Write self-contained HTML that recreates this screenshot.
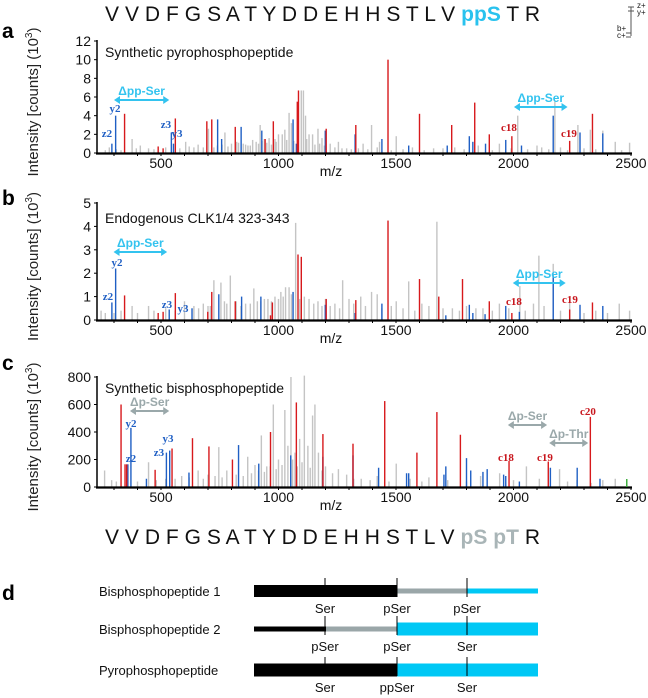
<!DOCTYPE html>
<html><head><meta charset="utf-8">
<style>
html,body{margin:0;padding:0;background:#fff;}
svg{display:block;font-family:"Liberation Sans",Arial,sans-serif;}
</style></head>
<body>
<svg id="fig" width="648" height="698" viewBox="0 0 648 698" xmlns="http://www.w3.org/2000/svg">
  <text x="105" y="21" font-size="21" fill="#111" textLength="435" lengthAdjust="spacing">V V D F G S A T Y D D E H H S T L V <tspan fill="#29c2ee" font-weight="bold">ppS</tspan> T R</text>
  <g font-size="8" fill="#222">
    <text x="637" y="8">z+</text><text x="637" y="15">y+</text>
    <text x="617" y="31">b+</text><text x="617" y="38">c+</text>
    <path d="M628 7 H634 M628 11 H634 M631 7 V36 M626 33 H631 M626 37 H631" stroke="#555" stroke-width="1" fill="none"/>
  </g>
  <text x="105" y="544" font-size="21" fill="#111" textLength="435" lengthAdjust="spacing">V V D F G S A T Y D D E H H S T L V <tspan fill="#a9b5b7" font-weight="bold">pS pT</tspan> R</text>
  <g id="panels"></g>
  <g id="paneld"></g>
</svg>
<script>
// ---------- data ----------
const xTickLabels=[500,1000,1500,2000,2500];
const aTicks=[0,2,4,6,8,10,12];
const bTicks=[0,1,2,3,4,5];
const cTicks=[0,200,400,600,800];

const aRedMz=[345,488,509,561,695,716,816,943,978,1080,1085,1203,1329,1466,1600,1737,1835,1897,1993,2239,2336];
const aRedVal=[4.2,0.7,0.5,3.7,3.4,3.6,2.8,1.5,3.4,5.5,6.7,2.6,3.0,10,4.2,3.0,5.4,2.0,1.8,1.3,4.2];
const aBlueMz=[291,307,544,553,741,758,841,929,1062,1076,1199,1326,1440,1554,1718,1812,1827,1881,1967,2034,2169,2283,2380];
const aBlueVal=[1.0,4.0,2.2,1.0,3.6,1.5,2.8,2.4,3.6,1.0,2.4,2.0,1.5,0.8,0.8,1.8,1.2,1.0,1.4,0.8,4.0,2.2,2.1];
const aGrayMz=[263,280,377,412,447,605,640,658,702,725,772,800,822,850,870,890,905,922,940,960,985,1000,1016,1027,1045,1055,1097,1106,1115,1130,1145,1168,1185,1220,1255,1290,1360,1396,1430,1501,1570,1660,1750,1850,1940,2018,2100,2120,2176,2200,2274,2327,2380,2433,2494,310,330,395,470,520,580,620,680,740,760,785,830,860,880,915,930,950,970,990,1035,1065,1120,1155,1175,1195,1240,1270,1310,1340,1380,1420,1480,1530,1620,1700,1790,1910,1990,2060,2150,2230,2300,2350,2460];
const aGrayVal=[0.3,0.6,1.5,0.8,0.5,1.2,0.6,0.9,2.6,0.6,2.2,1.0,1.2,1.0,0.8,1.4,1.2,3.0,1.5,1.6,1.5,2.0,2.0,2.5,4.3,3.2,6.7,6.7,4.0,2.0,2.0,2.6,1.6,1.0,1.2,0.5,1.0,3.0,1.2,1.8,0.6,0.5,0.6,0.8,1.0,4.0,0.8,0.6,5.5,0.6,3.0,2.5,2.4,1.2,1.1,0.4,0.3,0.5,0.4,0.6,0.5,0.7,0.6,0.8,0.9,0.7,1.1,0.9,0.8,1.0,1.3,1.1,0.9,1.2,1.4,1.3,1.5,0.9,1.0,0.8,0.6,0.5,0.4,0.5,0.4,0.6,0.3,0.4,0.3,0.5,0.4,0.3,0.5,0.4,0.4,0.3,0.5,0.4,0.3];

const bRedMz=[345,488,509,561,699,716,816,966,974,1083,1097,1203,1329,1466,1600,1682,1783,1897,1993,2239,2336];
const bRedVal=[1.05,0.3,0.35,1.15,0.35,1.2,0.8,0.2,0.75,2.8,2.7,0.9,0.85,4.25,1.75,1.0,1.75,0.8,0.3,0.45,0.75];
const bBlueMz=[291,307,535,632,746,843,925,1062,1199,1326,1440,1712,1812,1827,1879,1967,2025,2169,2283,2380];
const bBlueVal=[0.75,2.2,0.45,0.5,1.1,1.0,1.0,1.2,0.65,0.3,0.7,0.2,0.65,0.3,0.25,0.6,0.35,1.9,0.65,0.6];
const bGrayMz=[245,263,377,447,600,660,700,725,755,795,820,860,895,925,955,985,1010,1030,1045,1073,1110,1130,1168,1200,1240,1273,1300,1350,1396,1420,1501,1554,1610,1674,1740,1800,1870,1940,2027,2085,2108,2169,2239,2450,2494,300,330,400,470,520,560,640,680,710,770,780,840,880,910,940,970,1000,1020,1055,1090,1150,1185,1220,1260,1320,1370,1440,1480,1530,1580,1640,1700,1770,1840,1910,1980,2050,2130,2200,2300,2350,2400];
const bGrayVal=[0.4,0.3,0.6,0.6,0.8,0.5,0.6,1.7,1.6,1.9,0.8,0.7,1.35,0.8,0.9,1.0,1.2,1.4,1.4,4.15,1.0,0.9,0.8,0.9,0.7,1.7,0.9,1.0,1.2,1.1,0.8,1.65,0.7,4.2,0.5,0.6,0.5,0.7,1.45,0.7,2.75,2.4,1.0,0.7,0.4,0.3,0.4,0.3,0.4,0.5,0.4,0.6,0.7,0.6,0.8,0.7,0.6,0.7,0.8,0.9,0.8,0.9,1.0,1.1,0.9,0.7,0.6,0.6,0.5,0.7,0.6,0.5,0.6,0.5,0.4,0.6,0.5,0.4,0.5,0.4,0.5,0.4,0.6,0.4,0.3,0.4,0.3];

const cRedMz=[330,347,354,475,547,634,704,804,966,1076,1189,1317,1452,1589,1674,1774,1981,2148,2327];
const cRedVal=[600,165,165,125,280,355,295,200,400,615,385,315,625,250,545,380,190,185,510];
const cBlueMz=[359,372,438,523,537,619,830,916,1052,1189,1317,1426,1545,1554,1704,1712,1800,1818,1870,1888,1958,1967,2025,2157,2271,2368];
const cBlueVal=[165,430,60,250,265,105,305,170,230,220,230,140,100,100,90,150,210,120,110,130,90,80,40,140,140,60];
const cGrayMz=[260,290,447,520,588,658,700,746,780,869,900,927,950,978,1000,1027,1040,1053,1070,1090,1110,1125,1145,1155,1170,1200,1255,1290,1352,1420,1501,1560,1640,1720,1860,1941,2055,2110,2196,2270,2380,2433,310,400,480,560,620,680,730,760,820,850,885,915,940,965,990,1015,1060,1080,1100,1135,1185,1230,1320,1390,1470,1610,1800,2000,2230,2330];
const cGrayVal=[120,50,180,60,80,120,90,290,120,220,160,375,150,600,200,560,300,800,250,350,810,300,520,600,250,150,130,90,60,80,170,60,70,50,80,100,150,60,130,50,50,60,40,40,50,60,70,60,80,70,90,80,100,120,110,150,130,160,200,150,180,140,120,100,60,50,40,40,40,50,40,30];

// ---------- helpers ----------
const NS="http://www.w3.org/2000/svg";
function X(mz){return 161+(mz-500)*0.235;}
function mk(tag,attrs,parent,text){const e=document.createElementNS(NS,tag);for(const k in attrs)e.setAttribute(k,attrs[k]);if(text!==undefined)e.textContent=text;parent.appendChild(e);return e;}

const root=document.getElementById('panels');
const PANELS=[
 {id:'a',base:153,top:41,max:12,ticks:aTicks,title:'Synthetic pyrophosphopeptide',titleY:57,letterY:38,
  red:[aRedMz,aRedVal],blue:[aBlueMz,aBlueVal],gray:[aGrayMz,aGrayVal]},
 {id:'b',base:320,top:203,max:5,ticks:bTicks,title:'Endogenous CLK1/4 323-343',titleY:223,letterY:205,
  red:[bRedMz,bRedVal],blue:[bBlueMz,bBlueVal],gray:[bGrayMz,bGrayVal]},
 {id:'c',base:487,top:377,max:800,ticks:cTicks,title:'Synthetic bisphosphopeptide',titleY:393,letterY:370,
  red:[cRedMz,cRedVal],blue:[cBlueMz,cBlueVal],gray:[cGrayMz,cGrayVal]}
];

PANELS.forEach(p=>{
  const g=mk('g',{},root);
  
  
  const Y=v=>p.base-(v/p.max)*(p.base-p.top);
  const lt=mk('text',{x:2,y:p.letterY,'font-size':21,'font-weight':'bold',fill:'#000'},g,p.id);
  
  
  const yt=mk('text',{x:0,y:0,'font-size':15,fill:'#222','text-anchor':'middle',transform:'translate(38,'+((p.base+p.top)/2+5)+') rotate(-90)'},g,'Intensity [counts] (10');
  mk('tspan',{'font-size':10,dy:-6},yt,'3');
  mk('tspan',{dy:6},yt,')');
  
  
  const tt=mk('text',{x:105,y:p.titleY,'font-size':14,fill:'#111'},g,p.title);
  
  
  [['gray','#c4c4c4'],['blue','#1f5fc4'],['red','#d7191c']].forEach(([k,col])=>{
    const [ms,vs]=p[k];
    const n=Math.min(ms.length,vs.length);
    for(let i=0;i<n;i++){
      const l=mk('line',{x1:X(ms[i]),x2:X(ms[i]),y1:p.base,y2:Y(vs[i]),stroke:col,'stroke-width':1.4},g);
      
      
    }
  });
  const ya=mk('line',{x1:97,x2:97,y1:p.base+1,y2:p.top-1,stroke:'#000','stroke-width':1.5},g);
  
  
  const xa=mk('line',{x1:96,x2:632,y1:p.base+0.5,y2:p.base+0.5,stroke:'#000','stroke-width':2.2},g);
  
  
  for(let m=300;m<=2500;m+=100){mk('line',{x1:X(m),x2:X(m),y1:p.base,y2:p.base+3,stroke:'#000','stroke-width':1},g);}
  p.ticks.forEach(v=>{
    mk('line',{x1:94,x2:97,y1:Y(v),y2:Y(v),stroke:'#000','stroke-width':1},g);
    const t=mk('text',{x:91,y:Y(v)+5,'font-size':14,'text-anchor':'end',fill:'#111'},g,String(v));
    
    
  });
  xTickLabels.forEach(v=>{
    const t=mk('text',{x:X(v),y:p.base+15,'font-size':14,'text-anchor':'middle',fill:'#111'},g,String(v));
    
    
  });
  const xl=mk('text',{x:331,y:p.base+23,'font-size':14,'text-anchor':'middle',fill:'#111'},g,'m/z');
  
  
  p.g=g;
});

// ---------- annotations ----------
function label(g,x,y,txt,col,nm,size){
  const t=mk('text',{x:x,y:y,'font-size':size||11,'font-weight':'bold','font-family':'"Liberation Serif",serif',fill:col,'text-anchor':'middle'},g,txt);
  
  
}
function arrow(g,m1,m2,y,col,txt,nm){
  const x1=X(m1),x2=X(m2);
  const a=mk('g',{},g);
  
  
  mk('line',{x1:x1+4,x2:x2-4,y1:y,y2:y,stroke:col,'stroke-width':2},a);
  mk('path',{d:`M${x1} ${y} l6 -4 v8 z M${x2} ${y} l-6 -4 v8 z`,fill:col},a);
  mk('text',{x:(x1+x2)/2,y:y-5,'font-size':12,'font-weight':'bold','text-anchor':'middle',fill:col},a,txt);
}
const cyan='#33c3ef',grayA='#9aa8aa',blu='#1f5fc4',rd='#c8161d';
const ga=PANELS[0].g,gb=PANELS[1].g,gc=PANELS[2].g;
arrow(ga,300,535,100,cyan,'Δpp-Ser','arrow-pp-ser-left');
arrow(ga,2002,2230,107,cyan,'Δpp-Ser','arrow-pp-ser-right');
label(ga,115,112,'y2',blu,'label-y2');label(ga,107,137,'z2',blu,'label-z2');
label(ga,166,128,'z3',blu,'label-z3');label(ga,177,137,'y3',blu,'label-y3');
label(ga,509,131,'c18',rd,'label-c18');label(ga,569,137,'c19',rd,'label-c19');

arrow(gb,298,526,252,cyan,'Δpp-Ser','arrow-pp-ser-left');
arrow(gb,1997,2222,283,cyan,'Δpp-Ser','arrow-pp-ser-right');
label(gb,117,266,'y2',blu,'label-y2');label(gb,108,300,'z2',blu,'label-z2');
label(gb,167,308,'z3',blu,'label-z3');label(gb,183,312,'y3',blu,'label-y3');
label(gb,514,305,'c18',rd,'label-c18');label(gb,570,303,'c19',rd,'label-c19');

arrow(gc,368,535,411,grayA,'Δp-Ser','arrow-p-ser-left');
arrow(gc,1976,2143,425,grayA,'Δp-Ser','arrow-p-ser-right');
arrow(gc,2152,2318,443,grayA,'Δp-Thr','arrow-p-thr');
label(gc,131,427,'y2',blu,'label-y2');label(gc,131,462,'z2',blu,'label-z2');
label(gc,168,442,'y3',blu,'label-y3');label(gc,159,456,'z3',blu,'label-z3');
label(gc,506,461,'c18',rd,'label-c18');label(gc,545,461,'c19',rd,'label-c19');label(gc,588,415,'c20',rd,'label-c20');
mk('line',{x1:X(2482),x2:X(2482),y1:487,y2:479,stroke:'#3a3','stroke-width':1.4},gc);

// ---------- panel d ----------
const gd=document.getElementById('paneld');
mk('text',{x:2,y:600,'font-size':21,'font-weight':'bold'},gd,'d');
const rows=[
 {name:'Bisphosphopeptide 1',y:591,segs:[[254,397,'#000',12],[397,467,'#9aa6a8',5],[467,538,'#00c8f5',5]],labs:['Ser','pSer','pSer']},
 {name:'Bisphosphopeptide 2',y:629,segs:[[254,326,'#000',5],[326,397,'#9aa6a8',5],[397,538,'#00c8f5',13]],labs:['pSer','pSer','Ser']},
 {name:'Pyrophosphopeptide',y:670,segs:[[254,397,'#000',13],[397,538,'#00c8f5',13]],labs:['Ser','ppSer','Ser']}
];
const sitesX=[325,397,467];
rows.forEach(r=>{
  const rg=mk('g',{},gd);
  
  
  mk('text',{x:99,y:r.y+5,'font-size':13,fill:'#111'},rg,r.name);
  r.segs.forEach(s=>mk('rect',{x:s[0],y:r.y-s[3]/2,width:s[1]-s[0],height:s[3],fill:s[2]},rg));
  sitesX.forEach((x,i)=>{
    mk('line',{x1:x,x2:x,y1:r.y-13,y2:r.y+6,stroke:'#000','stroke-width':1},rg);
    mk('text',{x:x,y:r.y+22,'font-size':13,'text-anchor':'middle',fill:'#111'},rg,r.labs[i]);
  });
});
</script>
</body></html>
